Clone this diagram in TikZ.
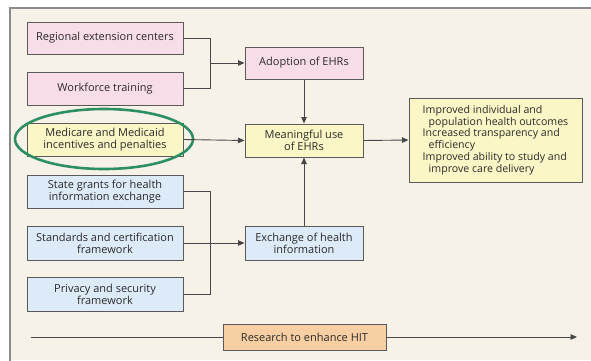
\documentclass[tikz,border=0pt]{standalone}
\usepackage{fontspec}
\setmainfont{Open Sans}
\usetikzlibrary{arrows.meta}
\definecolor{bgc}{HTML}{F6F2E7}
\definecolor{pinkc}{HTML}{F8DCE8}
\definecolor{yelc}{HTML}{FBF6C6}
\definecolor{bluec}{HTML}{DDEAF8}
\definecolor{orc}{HTML}{F7CFA2}
\definecolor{edgec}{HTML}{5A5A5A}
\definecolor{txtc}{HTML}{2A2A2A}
\definecolor{greenc}{HTML}{2E9062}
\tikzset{
  box/.style={draw=edgec, line width=1pt, align=center, inner sep=0pt, text=txtc,
    font=\fontsize{11}{12}\selectfont},
  conn/.style={draw=edgec!80!black, line width=0.9pt},
  arr/.style={conn, -{Triangle[length=6.5pt,width=5.5pt]}},
}
\begin{document}
\begin{tikzpicture}[x=1pt,y=-1pt]
\useasboundingbox (0,0) rectangle (591,360);
\fill[white] (0,0) rectangle (591,360);
\fill[bgc] (10,8) rectangle (591,360);
\draw[edgec!70, line width=1.6pt] (10,362) -- (10,8) -- (593,8);
% left column
\node[box, fill=pinkc, minimum width=156pt, minimum height=32pt] (rec) at (105,38) {Regional extension centers};
\node[box, fill=pinkc, minimum width=156pt, minimum height=33pt] (wft) at (105,88.5) {Workforce training};
\node[box, fill=yelc, minimum width=156pt, minimum height=33pt] (med) at (105,139.5) {Medicare and Medicaid\\incentives and penalties};
\node[box, fill=bluec, minimum width=156pt, minimum height=33pt] (sgh) at (105,191.5) {State grants for health\\information exchange};
\node[box, fill=bluec, minimum width=156pt, minimum height=34pt] (scf) at (105,243) {Standards and certification\\framework};
\node[box, fill=bluec, minimum width=156pt, minimum height=34pt] (psf) at (105,294) {Privacy and security\\framework};
% middle column
\node[box, fill=pinkc, minimum width=118pt, minimum height=32pt] (adopt) at (304,63) {Adoption of EHRs};
\node[box, fill=yelc, minimum width=118pt, minimum height=33pt] (mu) at (304,140.5) {Meaningful use\\of EHRs};
\node[box, fill=bluec, minimum width=118pt, minimum height=34pt] (exch) at (304,243) {Exchange of health\\information};
% outcomes
\node[box, fill=yelc, minimum width=173pt, minimum height=84pt, align=left, font=\fontsize{10.6}{11.8}\selectfont] (out) at (495.5,140) {%
Improved individual and\\
\hspace*{6pt}population health outcomes\\
Increased transparency and\\
\hspace*{6pt}efficiency\\
Improved ability to study and\\
\hspace*{6pt}improve care delivery};
% research
\node[box, fill=orc, minimum width=163pt, minimum height=26pt] (res) at (304.5,337) {Research to enhance HIT};
\coordinate (rl) at (31,337);
\coordinate (rr) at (577,337);
% green ellipse
\draw[greenc, line width=2.6pt] (104,139) ellipse [x radius=89, y radius=30];
% connectors
\coordinate (b1) at (210,63);
\draw[conn] (rec.east) -| (b1);
\draw[conn] (wft.east) -| (b1);
\draw[arr] (b1) -- (adopt.west);
\draw[arr] (adopt.south) -- (mu.north);
\draw[arr] (med.east) -- (mu.west);
\draw[arr] (mu.east) -- (out.west);
\coordinate (b2) at (210,243);
\draw[conn] (sgh.east) -| (b2);
\draw[conn] (psf.east) -| (b2);
\draw[conn] (scf.east) -- (b2);
\draw[arr] (b2) -- (exch.west);
\draw[arr] (exch.north) -- (mu.south);
\draw[conn] (rl) -- (res.west);
\draw[arr] (res.east) -- (rr);
\end{tikzpicture}
\end{document}
